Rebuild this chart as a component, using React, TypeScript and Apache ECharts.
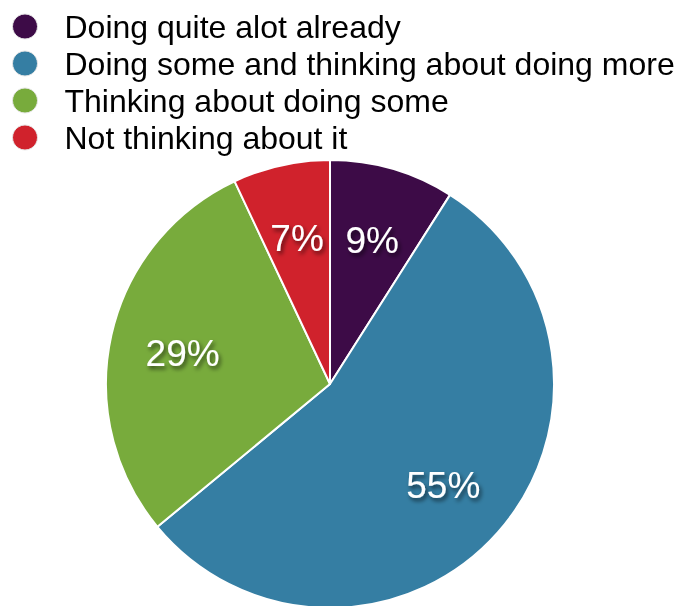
import React, { useEffect, useRef } from "react";
import * as echarts from "echarts";

const categories = [
  "Doing quite alot already",
  "Doing some and thinking about doing more",
  "Thinking about doing some",
  "Not thinking about it",
];
const values = [9, 55, 29, 7];
const colors = ["#3d0b47", "#357ea3", "#78ab3c", "#d0222c"];

export default function App() {
  const ref = useRef<HTMLDivElement>(null);
  useEffect(() => {
    const chart = echarts.init(ref.current!, null, { renderer: "svg" });
    const data = categories.map((name, i) => ({
      name,
      value: values[i],
      itemStyle: { color: colors[i] },
    }));
    chart.setOption({
      animation: false,
      legend: {
        orient: "vertical",
        left: 12,
        top: 10,
        padding: 0,
        icon: "circle",
        itemWidth: 25,
        itemHeight: 25,
        itemGap: 4,
        itemStyle: { borderColor: "#e6e6e6", borderWidth: 1 },
        textStyle: {
          fontFamily: "Liberation Sans, Arial, sans-serif",
          fontSize: 32,
          color: "#000",
          lineHeight: 33,
          padding: [0, 0, 0, 22],
        },
        data: categories,
      },
      series: [
        {
          type: "pie",
          center: [330, 384],
          radius: [0, 224],
          startAngle: 90,
          clockwise: true,
          label: { show: false },
          labelLine: { show: false },
          emphasis: { disabled: true },
          itemStyle: { borderColor: "#fff", borderWidth: 2 },
          data,
        },
        {
          type: "pie",
          center: [330, 386],
          radius: [72, 224],
          startAngle: 90,
          clockwise: true,
          silent: true,
          legendHoverLink: false,
          itemStyle: { color: "transparent", borderWidth: 0 },
          emphasis: { disabled: true },
          label: {
            show: true,
            position: "inside",
            formatter: "{c}%",
            color: "#fff",
            fontSize: 37,
            fontFamily: "Liberation Sans, Arial, sans-serif",
            textShadowColor: "rgba(0,0,0,0.6)",
            textShadowBlur: 4,
            textShadowOffsetX: 2,
            textShadowOffsetY: 3,
          },
          labelLine: { show: false },
          data: categories.map((name, i) => ({ name, value: values[i] })),
        },
      ],
    });
    return () => chart.dispose();
  }, []);
  return (
    <div
      ref={ref}
      style={{ position: "fixed", left: 0, top: 0, width: 684, height: 606 }}
    />
  );
}
